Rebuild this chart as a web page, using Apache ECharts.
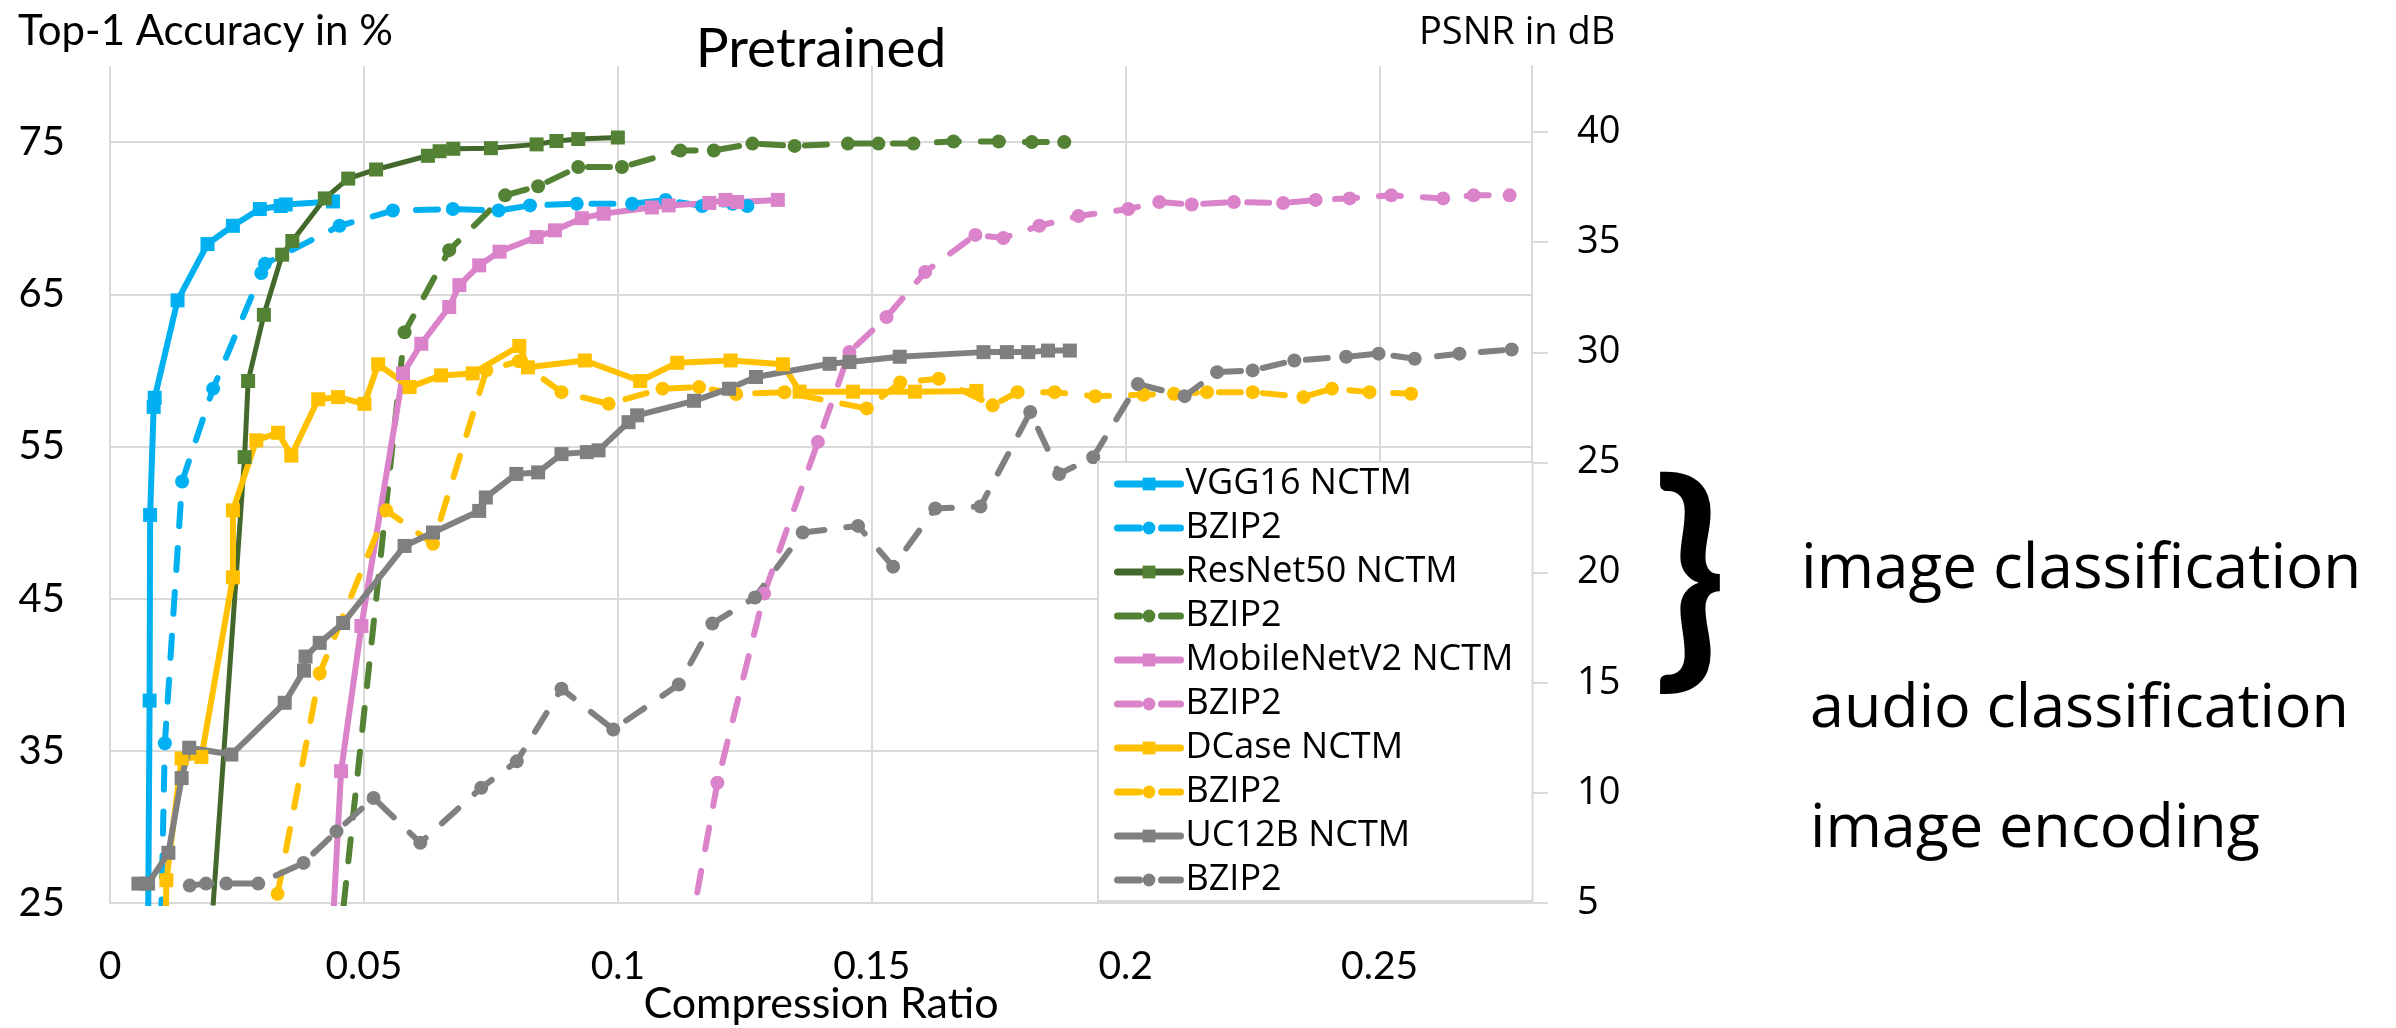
<!DOCTYPE html>
<html>
<head>
<meta charset="utf-8">
<title>Pretrained</title>
<script src="https://cdn.jsdelivr.net/npm/echarts@6.0.0/dist/echarts.min.js"></script>
<style>
  html, body { margin: 0; padding: 0; background: #fff; }
  #main { width: 2396px; height: 1028px; }
</style>
</head>
<body>
<div id="main"></div>
<script>
// x = compression ratio, y = top-1 accuracy in % (classification) or PSNR in dB (UC12B)
// values; first points below the axis are where the lines leave the plot
var vggNctmX = [0.0074, 0.0078, 0.0079, 0.0086, 0.0088, 0.0133, 0.0192, 0.0242, 0.0295, 0.0336, 0.0346, 0.0439];
var vggNctmY = [18, 38.3, 50.5, 57.6, 58.2, 64.6, 68.3, 69.5, 70.6, 70.8, 70.9, 71.1];
var vggBzipX = [0.0097, 0.0108, 0.0142, 0.0203, 0.0298, 0.0305, 0.0452, 0.0557, 0.0675, 0.0765, 0.0827, 0.0919, 0.1028, 0.1094, 0.1166, 0.1226, 0.1255];
var vggBzipY = [18, 35.5, 52.7, 58.8, 66.4, 67.0, 69.5, 70.5, 70.6, 70.5, 70.84, 70.95, 70.95, 71.2, 70.8, 70.95, 70.8];

var resNctmX = [0.0197, 0.0265, 0.0272, 0.0303, 0.0339, 0.0359, 0.0423, 0.0469, 0.0524, 0.0626, 0.0649, 0.0676, 0.0750, 0.0840, 0.0879, 0.0922, 0.1000];
var resNctmY = [22, 54.3, 59.3, 63.65, 67.6, 68.5, 71.3, 72.6, 73.2, 74.1, 74.4, 74.56, 74.6, 74.85, 75.07, 75.2, 75.3];
var resBzipX = [0.0451, 0.0580, 0.0668, 0.0778, 0.0843, 0.0922, 0.1008, 0.1123, 0.1189, 0.1265, 0.1348, 0.1453, 0.1513, 0.1582, 0.1661, 0.1750, 0.1815, 0.1879];
var resBzipY = [22, 62.5, 67.9, 71.5, 72.1, 73.36, 73.36, 74.45, 74.45, 74.9, 74.75, 74.9, 74.9, 74.9, 75.04, 75.04, 75.0, 75.0];

var mobNctmX = [0.0433, 0.0455, 0.0495, 0.0577, 0.0613, 0.0668, 0.0688, 0.0727, 0.0767, 0.0840, 0.0876, 0.0929, 0.0972, 0.1067, 0.1100, 0.1180, 0.1212, 0.1235, 0.1315];
var mobNctmY = [20, 33.66, 43.2, 59.8, 61.75, 64.16, 65.6, 66.9, 67.8, 68.76, 69.2, 70.0, 70.3, 70.7, 70.84, 71.0, 71.2, 71.06, 71.2];
var mobBzipX = [0.1125, 0.1196, 0.1288, 0.1394, 0.1456, 0.1529, 0.1605, 0.1704, 0.1759, 0.1830, 0.1907, 0.2005, 0.2066, 0.2130, 0.2213, 0.2310, 0.2374, 0.2441, 0.2523, 0.2625, 0.2685, 0.2756];
var mobBzipY = [20, 32.9, 45.33, 55.3, 61.2, 63.5, 66.46, 68.9, 68.7, 69.5, 70.14, 70.6, 71.06, 70.9, 71.06, 71.0, 71.2, 71.3, 71.5, 71.3, 71.5, 71.5];

var dcaseNctmX = [0.0108, 0.0111, 0.0141, 0.0180, 0.0242, 0.0242, 0.0288, 0.0331, 0.0357, 0.0410, 0.0449, 0.0501, 0.0528, 0.0590, 0.0652, 0.0714, 0.0806, 0.0823, 0.0935, 0.1044, 0.1117, 0.1222, 0.1325, 0.1358, 0.1463, 0.1585, 0.1706];
var dcaseNctmY = [20, 26.5, 34.5, 34.6, 46.4, 50.8, 55.4, 55.9, 54.4, 58.1, 58.24, 57.8, 60.4, 58.9, 59.67, 59.8, 61.6, 60.2, 60.65, 59.3, 60.5, 60.65, 60.4, 58.6, 58.6, 58.6, 58.65];
var dcaseBzipX = [0.0330, 0.0413, 0.0544, 0.0636, 0.0741, 0.0805, 0.0889, 0.0982, 0.1088, 0.1160, 0.1233, 0.1328, 0.1490, 0.1556, 0.1632, 0.1738, 0.1787, 0.1860, 0.1940, 0.2035, 0.2095, 0.2160, 0.2250, 0.2350, 0.2406, 0.2480, 0.2562];
var dcaseBzipY = [25.6, 40.1, 50.8, 48.6, 60.0, 60.6, 58.57, 57.8, 58.8, 58.9, 58.45, 58.56, 57.5, 59.2, 59.45, 57.7, 58.57, 58.57, 58.3, 58.4, 58.46, 58.57, 58.57, 58.24, 58.8, 58.57, 58.46];

var ucNctmX = [0.0056, 0.0075, 0.0115, 0.0141, 0.0156, 0.0239, 0.0344, 0.0382, 0.0385, 0.0413, 0.0459, 0.0580, 0.0636, 0.0727, 0.0740, 0.0800, 0.0843, 0.0889, 0.0939, 0.0962, 0.1021, 0.1038, 0.1150, 0.1219, 0.1272, 0.1417, 0.1456, 0.1555, 0.1720, 0.1766, 0.1808, 0.1847, 0.1890];
var ucNctmY = [5.88, 5.88, 7.28, 10.67, 12.05, 11.74, 14.09, 15.55, 16.19, 16.81, 17.71, 21.21, 21.82, 22.80, 23.41, 24.48, 24.55, 25.38, 25.47, 25.55, 26.83, 27.14, 27.80, 28.35, 28.88, 29.48, 29.56, 29.80, 30.01, 30.01, 30.01, 30.08, 30.08];
var ucBzipX = [0.0157, 0.0189, 0.0229, 0.0292, 0.0381, 0.0446, 0.0519, 0.0611, 0.0731, 0.0801, 0.0889, 0.0991, 0.1120, 0.1186, 0.1270, 0.1364, 0.1473, 0.1542, 0.1625, 0.1714, 0.1812, 0.1869, 0.1936, 0.2024, 0.2116, 0.2180, 0.2250, 0.2332, 0.2434, 0.2498, 0.2569, 0.2657, 0.2760];
var ucBzipY = [5.79, 5.88, 5.88, 5.88, 6.82, 8.25, 9.77, 7.73, 10.23, 11.43, 14.73, 12.88, 14.92, 17.69, 18.87, 21.82, 22.12, 20.27, 22.91, 23.0, 27.29, 24.48, 25.24, 28.56, 28.01, 29.1, 29.18, 29.63, 29.80, 29.94, 29.71, 29.94, 30.13];

var ratioTicks = [0, 0.05, 0.1, 0.15, 0.2, 0.25];
var accTicks = [25, 35, 45, 55, 65, 75];
var psnrTicks = [5, 10, 15, 20, 25, 30, 35, 40];

function zip(xs, ys) {
  var out = [];
  for (var i = 0; i < xs.length; i++) out.push([xs[i], ys[i]]);
  return out;
}

var gridColor = '#d9d9d9';
var dash = [22, 22];

function mkSeries(name, xs, ys, color, symColor, dashed, axis, lw) {
  return {
    name: name,
    type: 'line',
    yAxisIndex: axis,
    data: zip(xs, ys),
    symbol: dashed ? 'circle' : 'rect',
    symbolSize: 14,
    showAllSymbol: true,
    clip: true,
    lineStyle: { color: color, width: lw, type: dashed ? dash : 'solid', cap: 'round', join: 'round' },
    itemStyle: { color: symColor, borderWidth: 0 },
    emphasis: { disabled: true }
  };
}

var series = [
  mkSeries('VGG16 NCTM', vggNctmX, vggNctmY, '#00b0f0', '#00b0f0', false, 0, 6),
  mkSeries('VGG16 BZIP2', vggBzipX, vggBzipY, '#00b0f0', '#00b0f0', true, 0, 6),
  mkSeries('ResNet50 NCTM', resNctmX, resNctmY, '#43682b', '#548235', false, 0, 5),
  mkSeries('ResNet50 BZIP2', resBzipX, resBzipY, '#548235', '#548235', true, 0, 6),
  mkSeries('MobileNetV2 NCTM', mobNctmX, mobNctmY, '#da83ca', '#da83ca', false, 0, 6),
  mkSeries('MobileNetV2 BZIP2', mobBzipX, mobBzipY, '#da83ca', '#da83ca', true, 0, 6),
  mkSeries('DCase NCTM', dcaseNctmX, dcaseNctmY, '#ffc000', '#ffc000', false, 0, 6),
  mkSeries('DCase BZIP2', dcaseBzipX, dcaseBzipY, '#ffc000', '#ffc000', true, 0, 6),
  mkSeries('UC12B NCTM', ucNctmX, ucNctmY, '#808080', '#7f7f7f', false, 1, 6),
  mkSeries('UC12B BZIP2', ucBzipX, ucBzipY, '#808080', '#808080', true, 1, 6)
];

var chart = echarts.init(document.getElementById('main'));

var option = {
  backgroundColor: '#fff',
  animation: false,
  grid: { left: 110, right: 864, top: 66, bottom: 125 },
  xAxis: {
    type: 'value',
    min: 0, max: 0.28, interval: 0.05,
    axisLine: { show: true, lineStyle: { color: gridColor, width: 2 } },
    axisTick: { show: false },
    splitLine: { show: true, showMaxLine: false, lineStyle: { color: gridColor, width: 2 } },
    axisLabel: {
      customValues: ratioTicks,
      margin: 44,
      color: '#000',
      fontFamily: 'Lato',
      fontSize: 39
    }
  },
  yAxis: [{
    type: 'value',
    position: 'left',
    min: 25, max: 80, interval: 10,
    axisLine: { show: false },
    axisTick: { show: false },
    splitLine: { show: true, showMaxLine: false, lineStyle: { color: gridColor, width: 2 } },
    axisLabel: {
      customValues: accTicks,
      margin: 45,
      color: '#000',
      fontFamily: 'Lato',
      fontSize: 40
    }
  }, {
    type: 'value',
    position: 'right',
    min: 5, max: 43, interval: 5,
    axisLine: { show: true, lineStyle: { color: gridColor, width: 2 } },
    axisTick: { show: true, customValues: psnrTicks, length: 16, lineStyle: { color: gridColor, width: 2 } },
    splitLine: { show: false },
    axisLabel: {
      customValues: psnrTicks,
      margin: 45,
      color: '#000',
      fontFamily: 'Open Sans',
      fontSize: 38
    }
  }],
  legend: {
    orient: 'vertical',
    left: 1098,
    top: 462,
    padding: [3, 19, 2, 16],
    itemGap: 6,
    itemWidth: 63,
    itemHeight: 16,
    backgroundColor: '#fff',
    borderColor: gridColor,
    borderWidth: 2,
    selectedMode: false,
    lineStyle: { width: 7 },
    formatter: function (name) {
      return name.indexOf('BZIP2') >= 0 ? 'BZIP2' : name;
    },
    textStyle: { color: '#000', fontFamily: 'Open Sans', fontSize: 36, lineHeight: 38 }
  },
  graphic: [
    { type: 'text', x: 18, y: 31, style: { text: 'Top-1 Accuracy in %', fill: '#000', fontFamily: 'Lato', fontSize: 42, align: 'left', verticalAlign: 'middle' } },
    { type: 'text', x: 821, y: 49, style: { text: 'Pretrained', fill: '#000', fontFamily: 'Lato', fontSize: 55, align: 'center', verticalAlign: 'middle' } },
    { type: 'text', x: 1419, y: 33, style: { text: 'PSNR in dB', fill: '#000', fontFamily: 'Open Sans', fontSize: 38, align: 'left', verticalAlign: 'middle' } },
    { type: 'text', x: 821, y: 1004, style: { text: 'Compression Ratio', fill: '#000', fontFamily: 'Lato', fontSize: 43, align: 'center', verticalAlign: 'middle' } },
    { type: 'text', x: 1690, y: 580, style: { text: '}', fill: '#000', fontFamily: 'Lato', fontSize: 240, fontWeight: 'bold', align: 'center', verticalAlign: 'middle' } },
    { type: 'text', x: 1801, y: 570, style: { text: 'image classification', fill: '#000', fontFamily: 'Open Sans', fontSize: 62, align: 'left', verticalAlign: 'middle' } },
    { type: 'text', x: 1810, y: 710, style: { text: 'audio classification', fill: '#000', fontFamily: 'Open Sans', fontSize: 61, align: 'left', verticalAlign: 'middle' } },
    { type: 'text', x: 1810, y: 830, style: { text: 'image encoding', fill: '#000', fontFamily: 'Open Sans', fontSize: 61, align: 'left', verticalAlign: 'middle' } }
  ],
  series: series
};

chart.setOption(option);
</script>
</body>
</html>
